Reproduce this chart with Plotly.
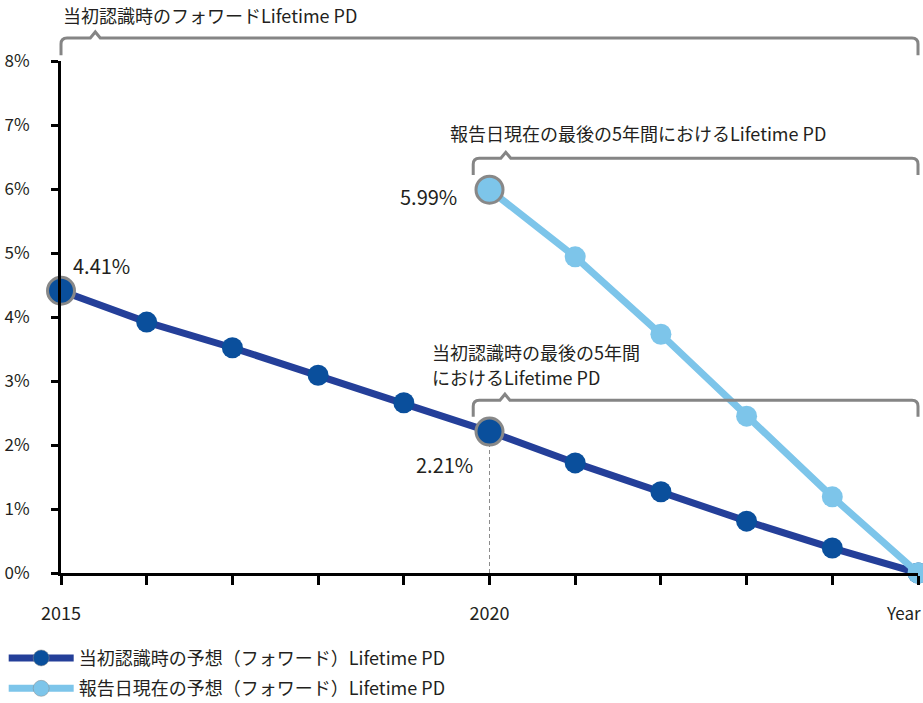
import plotly.graph_objects as go

# ---- data ----
years = [2015, 2016, 2017, 2018, 2019, 2020, 2021, 2022, 2023, 2024, 2025]
initial_pd = [4.41, 3.92, 3.52, 3.09, 2.66, 2.21, 1.72, 1.27, 0.81, 0.39, 0.0]
report_years = [2020, 2021, 2022, 2023, 2024, 2025]
report_pd = [5.99, 4.94, 3.73, 2.45, 1.19, 0.0]
y_ticks = [0, 1, 2, 3, 4, 5, 6, 7, 8]
y_tick_text = ["0%", "1%", "2%", "3%", "4%", "5%", "6%", "7%", "8%"]
x_label_years = [2015, 2020]

name_initial = "当初認識時の予想（フォワード）Lifetime PD"
name_report = "報告日現在の予想（フォワード）Lifetime PD"
title_top = "当初認識時のフォワードLifetime PD"
title_mid = "報告日現在の最後の5年間におけるLifetime PD"
title_low_1 = "当初認識時の最後の5年間"
title_low_2 = "におけるLifetime PD"

XMIN, XMAX = 2015, 2025
YMIN, YMAX = 0, 8

DARK_LINE = "#243f99"
DARK_MK = "#0a4f9c"
LIGHT = "#7dc5ea"
GRAY = "#888888"
TXT = "#231f20"
FONT = "Noto Sans CJK JP"

fig = go.Figure()

# dashed drop line at 2020
i20 = years.index(2020)
fig.add_trace(go.Scatter(
    x=[years[i20], years[i20]], y=[0, initial_pd[i20]], mode="lines",
    line=dict(color="#8c8c8c", width=1, dash="4px,3px"),
    showlegend=False, hoverinfo="skip", cliponaxis=False))

big_idx_initial = {0, i20}
fig.add_trace(go.Scatter(
    x=years, y=initial_pd, mode="lines+markers", name=name_initial,
    legendgroup="a",
    line=dict(color=DARK_LINE, width=7),
    marker=dict(color=DARK_MK, opacity=1,
                size=[27 if i in big_idx_initial else 21 for i in range(len(years))],
                line=dict(color=[GRAY if i in big_idx_initial else DARK_MK for i in range(len(years))],
                          width=[3 if i in big_idx_initial else 0 for i in range(len(years))])),
    cliponaxis=False))

fig.add_trace(go.Scatter(
    x=report_years, y=report_pd, mode="lines+markers", name=name_report,
    legendgroup="b",
    line=dict(color=LIGHT, width=7),
    marker=dict(color=LIGHT, opacity=1,
                size=[27 if i == 0 else 21 for i in range(len(report_years))],
                line=dict(color=[GRAY if i == 0 else LIGHT for i in range(len(report_years))],
                          width=[3 if i == 0 else 0 for i in range(len(report_years))])),
    cliponaxis=False))


def xd(v):
    return (v - XMIN) / (XMAX - XMIN)


def yd(v):
    return (v - YMIN) / (YMAX - YMIN)


def bracket(x0, x1, ytop, ybot, notch):
    rx, ry = 0.07, 0.094
    nw, nh = 0.058, 0.094
    pts = [
        f"M {xd(x0)},{yd(ybot)}",
        f"L {xd(x0)},{yd(ytop - ry)}",
        f"Q {xd(x0)},{yd(ytop)} {xd(x0 + rx)},{yd(ytop)}",
        f"L {xd(notch - nw)},{yd(ytop)}",
        f"L {xd(notch)},{yd(ytop + nh)}",
        f"L {xd(notch + nw)},{yd(ytop)}",
        f"L {xd(x1 - rx)},{yd(ytop)}",
        f"Q {xd(x1)},{yd(ytop)} {xd(x1)},{yd(ytop - ry)}",
        f"L {xd(x1)},{yd(ybot)}",
    ]
    return dict(type="path", path=" ".join(pts), xref="x domain", yref="y domain",
                line=dict(color="#858585", width=3), layer="above")


shapes = [
    bracket(2015.0, 2025.0, 8.36, 8.09, 2015.40),
    bracket(2019.81, 2025.0, 6.48, 6.22, 2020.19),
    bracket(2019.81, 2025.0, 2.70, 2.44, 2020.18),
]


def label(x, y, text, xanchor, size=18):
    return dict(x=xd(x), y=yd(y), xref="x domain", yref="y domain", text=text,
                xanchor=xanchor, yanchor="middle", showarrow=False,
                font=dict(size=size, color=TXT, family=FONT))


annotations = [
    label(2015.0, 8.72, title_top, "left"),
    label(2021.73, 6.875, title_mid, "center"),
    label(2019.30, 3.45, title_low_1, "left"),
    label(2019.30, 3.06, title_low_2, "left"),
    dict(x=years[0], y=initial_pd[0], text=f"{initial_pd[0]:.2f}%", xanchor="left",
         yanchor="middle", xshift=10, yshift=25, showarrow=False,
         font=dict(size=20, color=TXT, family=FONT)),
    dict(x=report_years[0], y=report_pd[0], text=f"{report_pd[0]:.2f}%", xanchor="right",
         yanchor="middle", xshift=-31, yshift=-7, showarrow=False,
         font=dict(size=20, color=TXT, family=FONT)),
    dict(x=years[i20], y=initial_pd[i20], text=f"{initial_pd[i20]:.2f}%", xanchor="right",
         yanchor="middle", xshift=-15, yshift=-33, showarrow=False,
         font=dict(size=20, color=TXT, family=FONT)),
    dict(x=1, y=0, xref="paper", yref="paper", text="Year", xanchor="right",
         yanchor="top", xshift=5, yshift=-25, showarrow=False,
         font=dict(size=17, color=TXT, family=FONT)),
]

fig.update_layout(
    width=923, height=703,
    margin=dict(l=61, r=5, t=61, b=130, autoexpand=False),
    paper_bgcolor="white", plot_bgcolor="white",
    font=dict(family=FONT, size=17, color=TXT),
    shapes=shapes, annotations=annotations,
    showlegend=True,
    legend=dict(xref="container", yref="container", x=0.004, y=0.09,
                xanchor="left", yanchor="top",
                orientation="v", itemwidth=65, font=dict(size=18, color=TXT, family=FONT),
                tracegroupgap=4, bgcolor="rgba(0,0,0,0)"),
    xaxis=dict(range=[XMIN, XMAX], showgrid=False, zeroline=False, automargin=False,
               showline=True, linecolor="black", linewidth=3,
               tickmode="array", tickvals=years,
               ticktext=[str(y) if y in x_label_years else "" for y in years],
               ticks="outside", ticklen=9, tickwidth=3, tickcolor="black",
               ticklabelstandoff=13, tickfont=dict(size=18, color=TXT, family=FONT)),
    yaxis=dict(range=[YMIN, YMAX], showgrid=False, zeroline=False, automargin=False,
               showline=True, linecolor="black", linewidth=3,
               tickmode="array", tickvals=y_ticks, ticktext=y_tick_text,
               ticks="outside", ticklen=7, tickwidth=3, tickcolor="black",
               ticklabelstandoff=18, tickfont=dict(size=17, color=TXT, family=FONT)),
)

fig.write_html("out.html")
